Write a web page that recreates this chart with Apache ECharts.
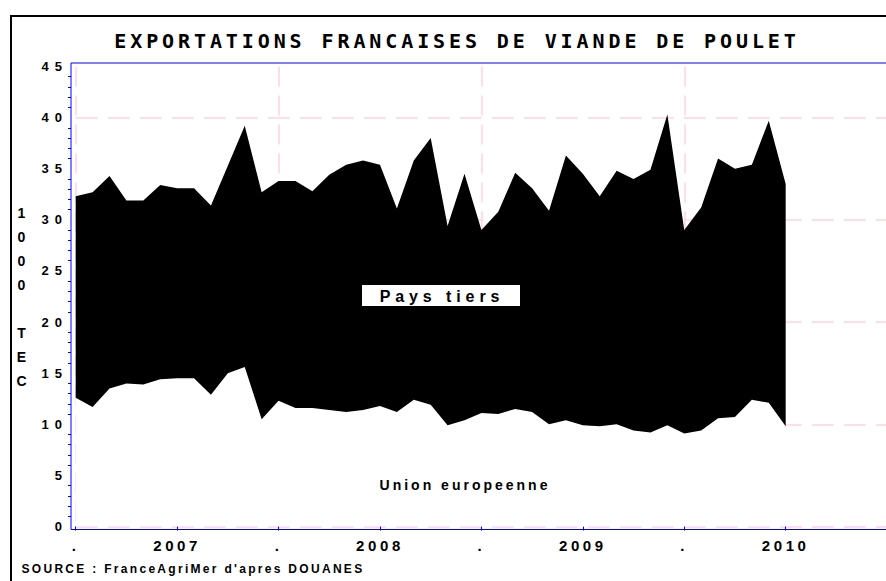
<!DOCTYPE html>
<html>
<head>
<meta charset="utf-8">
<script src="https://cdn.jsdelivr.net/npm/echarts@6/dist/echarts.min.js"></script>
<style>
html, body { margin: 0; padding: 0; background: #fff; }
#chart { width: 886px; height: 581px; }
</style>
</head>
<body>
<div id="chart"></div>
<script>
// total exports (EU + third countries), 1000 TEC, monthly Jan 2007 .. Jul 2010
const totalValues = [32.3, 32.7, 34.3, 31.9, 31.9, 33.4, 33.1, 33.1, 31.4, 35.3,
  39.2, 32.7, 33.8, 33.8, 32.8, 34.4, 35.4, 35.8, 35.4, 31.1,
  35.8, 38.0, 29.4, 34.5, 29.0, 30.8, 34.6, 33.1, 30.9, 36.3,
  34.5, 32.3, 34.8, 34.0, 34.9, 40.3, 29.0, 31.2, 36.0, 35.0,
  35.4, 39.7, 33.5]
// Union europeenne part
const euValues = [12.6, 11.7, 13.5, 14.0, 13.9, 14.4, 14.5, 14.5, 12.9, 15.0,
  15.6, 10.5, 12.3, 11.6, 11.6, 11.4, 11.2, 11.4, 11.8, 11.2,
  12.4, 11.9, 9.9, 10.4, 11.1, 11.0, 11.5, 11.2, 10.0, 10.4,
  9.9, 9.8, 10.0, 9.4, 9.2, 9.9, 9.1, 9.4, 10.6, 10.7,
  12.4, 12.1, 9.8]
// one label every 6 months, from Jan 2007
const xTickLabels = ['.', '2007', '.', '2008', '.', '2009', '.', '2010', '']

// axis runs Jan 2007 .. Jan 2011
const months = []
for (let y = 2007; y <= 2011; y++) {
  for (let m = 1; m <= 12 && months.length < 49; m++) {
    months.push(y + '-' + String(m).padStart(2, '0'))
  }
}

// Pays tiers = total - UE, stacked on top of the UE band
const tiersValues = totalValues.map((t, i) => +(t - euValues[i]).toFixed(1))

const BLUE = '#0000ff'
const PINK = '#ffd3dc'
const LABEL_FONT = 'Liberation Sans, Arial, sans-serif'

const chart = echarts.init(document.getElementById('chart'), null, { renderer: 'svg' })

const option = {
  animation: false,
  backgroundColor: '#fff',
  grid: { left: 75.7, top: 66.5, width: 811.4, height: 460, outerBoundsMode: 'none' },
  xAxis: {
    type: 'category',
    data: months,
    boundaryGap: false,
    offset: 3,
    axisLine: { show: false },
    axisTick: { interval: 5, length: 4, lineStyle: { color: BLUE, width: 1 } },
    axisLabel: {
      interval: 5,
      margin: 8,
      color: '#000',
      fontFamily: LABEL_FONT,
      fontWeight: 'bold',
      fontSize: 15,
      formatter: (v, i) => xTickLabels[Math.round(i / 6)] || ''
    },
    splitLine: {
      show: true,
      interval: 11,
      lineStyle: { color: PINK, width: 1.5, type: [20, 9] }
    }
  },
  yAxis: [
    {
      type: 'value',
      min: 0,
      max: 45,
      interval: 5,
      offset: 4.7,
      name: '1\n0\n0\n0\n\nT\nE\nC',
      nameLocation: 'middle',
      nameRotate: 0,
      nameGap: 48,
      nameTextStyle: {
        color: '#000',
        fontFamily: LABEL_FONT,
        fontWeight: 'bold',
        fontSize: 14,
        lineHeight: 24,
        align: 'center',
        verticalAlign: 'middle'
      },
      axisLine: { show: false },
      axisTick: { length: 5, lineStyle: { color: BLUE, width: 1 } },
      minorTick: { show: true, splitNumber: 5, length: 3, lineStyle: { color: BLUE, width: 1 } },
      axisLabel: {
        margin: 3,
        color: '#000',
        fontFamily: LABEL_FONT,
        fontWeight: 'bold',
        fontSize: 13
      },
      splitLine: { show: false }
    },
    {
      // only used for the dashed grid every 10
      type: 'value',
      min: 0,
      max: 45,
      interval: 10,
      position: 'right',
      axisLine: { show: false },
      axisTick: { show: false },
      axisLabel: { show: false },
      splitLine: {
        show: true,
        showMaxLine: false,
        lineStyle: { color: PINK, width: 1.5, type: [22, 10] }
      }
    }
  ],
  series: [
    {
      name: 'Union europeenne',
      type: 'line',
      stack: 'total',
      data: euValues,
      symbol: 'none',
      silent: true,
      lineStyle: { width: 0 },
      areaStyle: { color: '#fff', opacity: 1 }
    },
    {
      name: 'Pays tiers',
      type: 'line',
      stack: 'total',
      data: tiersValues,
      symbol: 'none',
      silent: true,
      lineStyle: { width: 0 },
      areaStyle: { color: '#000', opacity: 1 }
    }
  ],
  graphic: [
    {
      type: 'rect', z: 10, silent: true,
      shape: { x: 11, y: 16, width: 890, height: 580 },
      style: { fill: 'none', stroke: '#000', lineWidth: 2 }
    },
    {
      type: 'rect', z: 10, silent: true,
      shape: { x: 71, y: 63, width: 821, height: 466.5 },
      style: { fill: 'none', stroke: BLUE, lineWidth: 1 }
    },
    {
      type: 'text', z: 10, x: 457, y: 41,
      style: {
        text: 'EXPORTATIONS FRANCAISES DE VIANDE DE POULET',
        fill: '#000',
        font: 'bold 20px "DejaVu Sans Mono", monospace',
        textAlign: 'center',
        textVerticalAlign: 'middle'
      }
    },
    {
      type: 'rect', z: 10, silent: true,
      shape: { x: 362, y: 285, width: 158, height: 21 },
      style: { fill: '#fff' }
    },
    {
      type: 'text', z: 11, x: 442, y: 296,
      style: {
        text: 'Pays tiers',
        fill: '#000',
        font: 'bold 16px ' + LABEL_FONT,
        textAlign: 'center',
        textVerticalAlign: 'middle'
      }
    },
    {
      type: 'text', z: 11, x: 465, y: 484.5,
      style: {
        text: 'Union europeenne',
        fill: '#000',
        font: 'bold 14px ' + LABEL_FONT,
        textAlign: 'center',
        textVerticalAlign: 'middle'
      }
    },
    {
      type: 'text', z: 11, x: 21.5, y: 569,
      style: {
        text: "SOURCE : FranceAgriMer d'apres DOUANES",
        fill: '#000',
        font: 'bold 12px ' + LABEL_FONT,
        textAlign: 'left',
        textVerticalAlign: 'middle'
      }
    }
  ]
}

chart.setOption(option)

// the original output spreads its letters; widen the svg texts by font size
function applySpacing() {
  const spacing = { 20: 3.9, 16: 4.9, 15: 3.6, 14: 3, 13: 6, 12: 2.3 }
  document.querySelectorAll('#chart text').forEach(el => {
    const fs = Math.round(parseFloat(getComputedStyle(el).fontSize))
    if (spacing[fs] != null) el.style.letterSpacing = spacing[fs] + 'px'
  })
}
applySpacing()
chart.on('finished', applySpacing)
</script>
</body>
</html>
